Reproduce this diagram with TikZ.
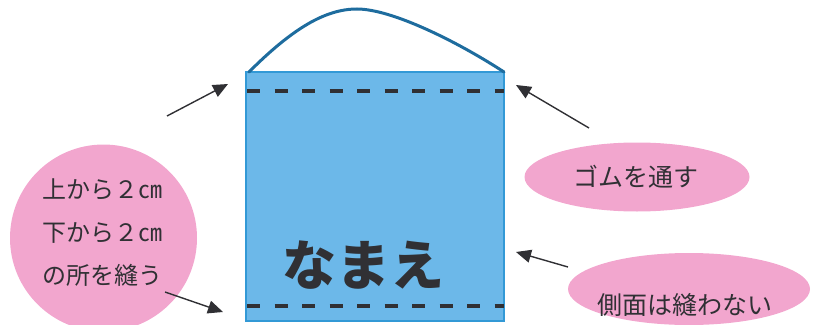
\documentclass[tikz,border=0pt]{standalone}
\usepackage{fontspec}
\newfontfamily\jp{Noto Sans CJK JP}
\usetikzlibrary{arrows.meta,shapes.geometric}
\definecolor{bagfill}{RGB}{108,184,233}
\definecolor{bagedge}{RGB}{51,153,214}
\definecolor{strap}{RGB}{30,108,158}
\definecolor{pinkbg}{RGB}{242,166,206}
\definecolor{ink}{RGB}{48,48,52}
\tikzset{
  stitch/.style={line width=3.5pt, ink, dash pattern=on 13pt off 14.5pt},
  pointer/.style={line width=1.4pt, ink, -{Triangle[length=15pt,width=13pt]}},
  bubble/.style={ellipse, fill=pinkbg, draw=none, inner sep=0pt},
  jtext/.style={font=\jp\fontsize{24}{28}\selectfont, text=ink, inner sep=0pt},
}
\begin{document}
\begin{tikzpicture}[x=1pt,y=-1pt]
\useasboundingbox (0,0) rectangle (814,324);
\clip (0,0) rectangle (814,324);
% bag
\node[draw=bagedge, fill=bagfill, line width=1.5pt, minimum width=258pt, minimum height=249pt, inner sep=0pt] (bag) at (375,196.5) {};
% strap
\coordinate (sl) at (249,72);
\coordinate (stop) at (357,9);
\coordinate (sr) at (504,72);
\draw[strap, line width=3pt, line cap=round] (sl) .. controls (292,29) and (325,9) .. (stop) .. controls (392,9) and (458,42) .. (sr);
% stitches
\coordinate (t1) at (247,91); \coordinate (t2) at (504,91);
\coordinate (b1) at (247,306); \coordinate (b2) at (504,306);
\draw[stitch] (t1) -- (t2);
\draw[stitch] (b1) -- (b2);
% name
\node[font=\jp\bfseries\fontsize{54}{60}\selectfont, text=ink, inner sep=0pt] (name) at (363,265) {なまえ};
% left circle
\node[circle, fill=pinkbg, minimum size=187pt, inner sep=0pt] (circ) at (103.5,238) {};
\node[jtext, anchor=base west] (l1) at (42,198) {上から２㎝};
\node[jtext, anchor=base west] (l2) at (42,241) {下から２㎝};
\node[jtext, anchor=base west] (l3) at (42,284) {の所を縫う};
% right bubbles
\node[bubble, minimum width=225pt, minimum height=69pt] (gom) at (637,177) {};
\node[jtext, font=\jp\fontsize{25}{28}\selectfont] (gomt) at (636,177) {ゴムを通す};
\node[bubble, minimum width=242pt, minimum height=72pt] (side) at (689,289) {};
\node[jtext, font=\jp\fontsize{25}{28}\selectfont] (sidet) at (685,305) {側面は縫わない};
% arrows
\coordinate (a1s) at (167,116); \coordinate (a1e) at (228,84);
\coordinate (a2s) at (165,292); \coordinate (a2e) at (223,312);
\coordinate (a3s) at (589,128); \coordinate (a3e) at (516,85);
\coordinate (a4s) at (568,267); \coordinate (a4e) at (516,252);
\draw[pointer] (a1s) -- (a1e);
\draw[pointer] (a2s) -- (a2e);
\draw[pointer] (a3s) -- (a3e);
\draw[pointer] (a4s) -- (a4e);
\end{tikzpicture}
\end{document}
